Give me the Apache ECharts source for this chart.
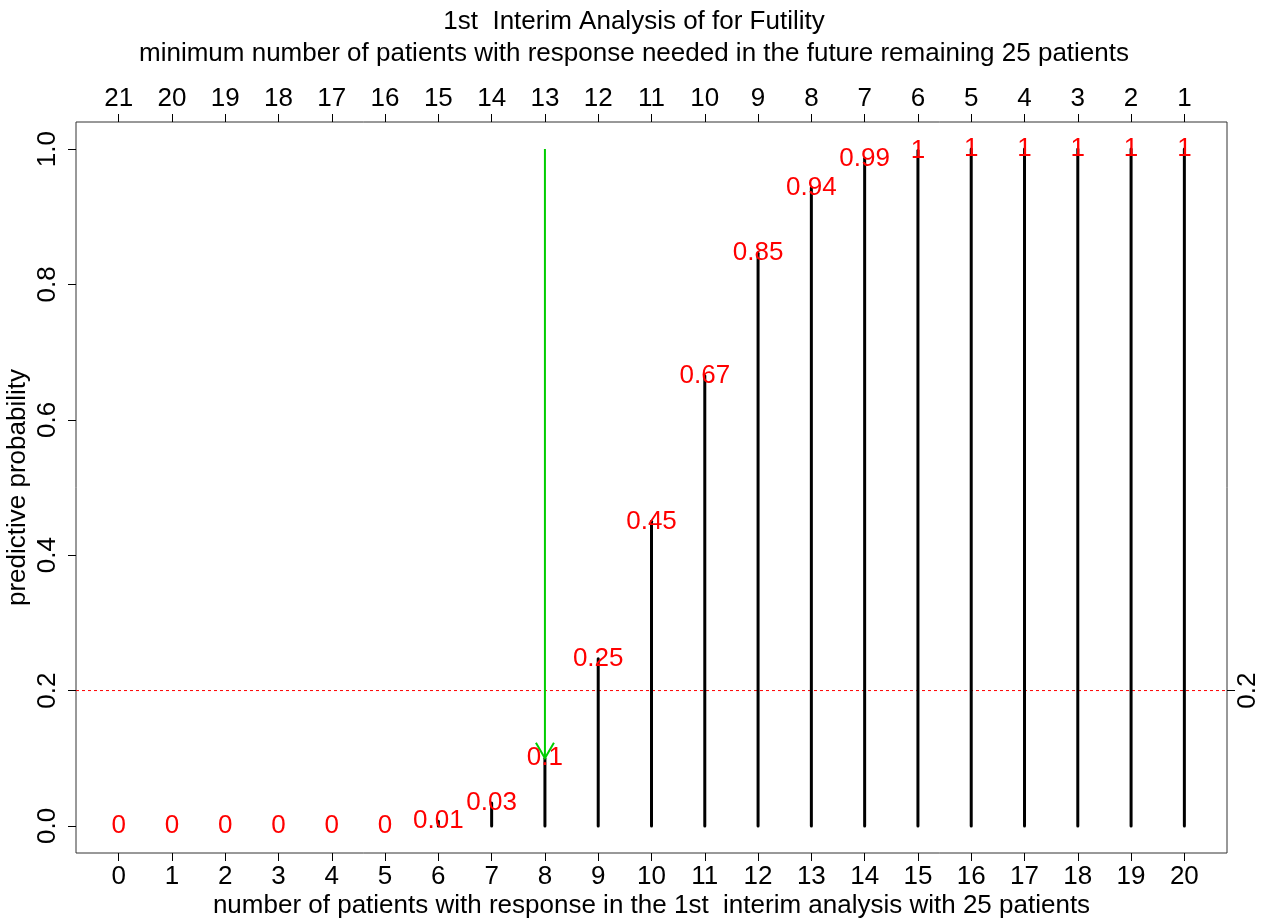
<!DOCTYPE html>
<html>
<head>
<meta charset="utf-8">
<script src="https://cdn.jsdelivr.net/npm/echarts@6/dist/echarts.min.js"></script>
<style>html,body{margin:0;padding:0;background:#fff;}#c{width:1268px;height:919px;}</style>
</head>
<body>
<div id="c"></div>
<script>
// ---- data ----
var responders = [0,1,2,3,4,5,6,7,8,9,10,11,12,13,14,15,16,17,18,19,20];
var probValues = [0,0,0,0,0,0,0.007,0.034,0.1,0.247,0.45,0.665,0.846,0.943,0.986,0.998,1,1,1,1,1];
var probLabels = ['0','0','0','0','0','0','0.01','0.03','0.1','0.25','0.45','0.67','0.85','0.94','0.99','1','1','1','1','1','1'];
var neededLabels = ['21','20','19','18','17','16','15','14','13','12','11','10','9','8','7','6','5','4','3','2','1'];
var yTicks = [0,0.2,0.4,0.6,0.8,1.0];
var threshold = 0.2;
var arrowX = 8, arrowFrom = 1.0, arrowTo = 0.1;

var FONT = 'Liberation Sans';
var FS = 26;

var stemData = responders.map(function(x,i){return [x, probValues[i]];});
var labelData = responders.map(function(x,i){return [x, probValues[i], i];});

var txt = {fontFamily:FONT,fontSize:FS,color:'#000'};
var tick = {show:true,length:8,lineStyle:{color:'#000',width:1}};

var chart = echarts.init(document.getElementById('c'), null, {renderer:'canvas'});
chart.setOption({
  animation:false,
  backgroundColor:'#fff',
  title:[
    {text:'1st  Interim Analysis of for Futility', left:'center', top:4,
     textStyle:{fontFamily:FONT,fontSize:FS,fontWeight:'normal',color:'#000'}},
    {text:'minimum number of patients with response needed in the future remaining 25 patients', left:'center', top:36,
     textStyle:{fontFamily:FONT,fontSize:FS,fontWeight:'normal',color:'#000'}}
  ],
  grid:{left:76,right:41,top:122,bottom:66,containLabel:false,outerBoundsMode:'none',
    show:true,borderColor:'#333',borderWidth:1,backgroundColor:'transparent'},
  xAxis:[
    {type:'value',position:'bottom',min:-0.8,max:20.8,
     name:'number of patients with response in the 1st  interim analysis with 25 patients',
     nameLocation:'middle',nameGap:40,nameMoveOverlap:false,nameTextStyle:txt,
     axisLine:{show:false,onZero:false},splitLine:{show:false},
     axisTick:Object.assign({customValues:responders},tick),
     axisLabel:Object.assign({margin:11,customValues:responders,
       formatter:function(v){return String(Math.round(v));}},txt)},
    {type:'value',position:'top',min:-0.8,max:20.8,
     axisLine:{show:false,onZero:false},splitLine:{show:false},
     axisTick:Object.assign({customValues:responders},tick),
     axisLabel:Object.assign({margin:10,customValues:responders,
       formatter:function(v){return neededLabels[Math.round(v)];}},txt)}
  ],
  yAxis:[
    {type:'value',position:'left',min:-0.04,max:1.04,
     name:'predictive probability',nameLocation:'middle',nameGap:45,nameRotate:90,nameMoveOverlap:false,nameTextStyle:txt,
     axisLine:{show:false,onZero:false},splitLine:{show:false},
     axisTick:Object.assign({customValues:yTicks},tick),
     axisLabel:Object.assign({margin:15,rotate:90,customValues:yTicks,
       formatter:function(v){return v.toFixed(1);}},txt)},
    {type:'value',position:'right',min:-0.04,max:1.04,
     axisLine:{show:false,onZero:false},splitLine:{show:false},
     axisTick:Object.assign({customValues:[threshold]},tick),
     axisLabel:Object.assign({margin:8,rotate:90,customValues:[threshold],
       formatter:function(v){return v.toFixed(1);}},txt)}
  ],
  series:[
    {type:'custom',xAxisIndex:0,yAxisIndex:0,data:[[threshold]],z:1,silent:true,
     renderItem:function(params,api){
       var cs=params.coordSys;
       var y=api.coord([0,api.value(0)])[1];
       return {type:'line',shape:{x1:cs.x,y1:y,x2:cs.x+cs.width,y2:y},
         style:{stroke:'#ff0000',lineWidth:1,lineDash:[3,3]}};
     }},
    {type:'custom',xAxisIndex:0,yAxisIndex:0,data:stemData,z:2,
     renderItem:function(params,api){
       var x=api.value(0), v=api.value(1);
       var p0=api.coord([x,0]), p1=api.coord([x,v]);
       return {type:'line',shape:{x1:p0[0],y1:p0[1],x2:p1[0],y2:p1[1]},
         style:{stroke:'#000',lineWidth:3,lineCap:'round'}};
     }},
    {type:'custom',xAxisIndex:0,yAxisIndex:0,data:[[arrowX,arrowFrom,arrowTo]],z:5,
     renderItem:function(params,api){
       var x=api.value(0);
       var a=api.coord([x,api.value(1)]), b=api.coord([x,api.value(2)]);
       var L=18, s=Math.sin(Math.PI/6)*L, c=Math.cos(Math.PI/6)*L;
       var st={stroke:'#00cd00',lineWidth:2,fill:null};
       return {type:'group',children:[
         {type:'line',shape:{x1:a[0],y1:a[1],x2:b[0],y2:b[1]},style:st},
         {type:'polyline',shape:{points:[[b[0]-s,b[1]-c],[b[0],b[1]],[b[0]+s,b[1]-c]]},style:st}
       ]};
     }},
    {type:'custom',xAxisIndex:0,yAxisIndex:0,data:labelData,z:10,
     renderItem:function(params,api){
       var p=api.coord([api.value(0),api.value(1)]);
       return {type:'text',x:p[0],y:p[1],
         style:{text:probLabels[api.value(2)],fill:'#ff0000',font:FS+'px "'+FONT+'"',align:'center',verticalAlign:'middle'}};
     }}
  ]
});
</script>
</body>
</html>
